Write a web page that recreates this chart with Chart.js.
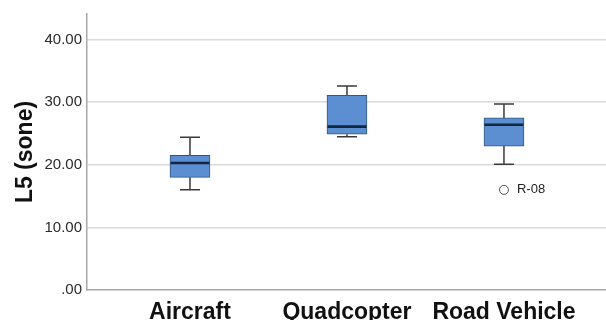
<!DOCTYPE html>
<html>
<head>
<meta charset="utf-8">
<script src="https://cdn.jsdelivr.net/npm/chart.js@4/dist/chart.umd.min.js"></script>
<style>
  html, body { margin: 0; padding: 0; background: #ffffff; }
  #wrap { width: 606px; height: 320px; }
</style>
</head>
<body>
<div id="wrap"><canvas id="c" width="606" height="320"></canvas></div>
<script>
// Groups and their five-number summaries (L5 loudness, sone)
const categories = ['Aircraft', 'Quadcopter', 'Road Vehicle'];
const whiskerLow = [16.0, 24.5, 20.1];
const quartile1 = [18.0, 24.9, 23.0];
const medians = [20.3, 26.1, 26.4];
const quartile3 = [21.5, 31.1, 27.5];
const whiskerHigh = [24.4, 32.6, 29.7];

// Flagged outliers
const outlierGroup = [2];
const outlierValues = [16.0];
const outlierLabels = ['R-08'];

// Value axis ticks
const yTicks = [0, 10, 20, 30, 40];

const FONT = "'Liberation Sans', Arial, Helvetica, sans-serif";

const boxExtras = {
  id: 'boxExtras',
  beforeDatasetsDraw(chart) {
    const { ctx, scales: { x, y } } = chart;
    ctx.save();
    ctx.strokeStyle = '#3a3a3a';
    ctx.lineWidth = 1.5;
    categories.forEach((c, i) => {
      const px = x.getPixelForValue(i);
      const capHalf = 10;
      const yLo = y.getPixelForValue(whiskerLow[i]);
      const yQ1 = y.getPixelForValue(quartile1[i]);
      const yQ3 = y.getPixelForValue(quartile3[i]);
      const yHi = y.getPixelForValue(whiskerHigh[i]);
      ctx.beginPath();
      ctx.moveTo(px, yQ1); ctx.lineTo(px, yLo);
      ctx.moveTo(px - capHalf, yLo); ctx.lineTo(px + capHalf, yLo);
      ctx.moveTo(px, yQ3); ctx.lineTo(px, yHi);
      ctx.moveTo(px - capHalf, yHi); ctx.lineTo(px + capHalf, yHi);
      ctx.stroke();
    });
    ctx.restore();
  },
  afterDatasetsDraw(chart) {
    const { ctx, scales: { x, y } } = chart;
    const bars = chart.getDatasetMeta(0).data;
    ctx.save();
    ctx.strokeStyle = '#13263f';
    ctx.lineWidth = 2.6;
    categories.forEach((c, i) => {
      const bar = bars[i];
      const half = bar.width / 2;
      const px = x.getPixelForValue(i);
      const py = y.getPixelForValue(medians[i]);
      ctx.beginPath();
      ctx.moveTo(px - half + 0.5, py);
      ctx.lineTo(px + half - 0.5, py);
      ctx.stroke();
    });
    ctx.fillStyle = '#222222';
    ctx.font = '13px ' + FONT;
    ctx.textBaseline = 'middle';
    ctx.textAlign = 'left';
    outlierLabels.forEach((t, k) => {
      const px = x.getPixelForValue(outlierGroup[k]);
      const py = y.getPixelForValue(outlierValues[k]);
      ctx.fillText(t, px + 13, py);
    });
    ctx.restore();
  }
};

new Chart(document.getElementById('c'), {
  data: {
    datasets: [
      {
        type: 'bar',
        data: categories.map((c, i) => ({ x: i, y: [quartile1[i], quartile3[i]] })),
        backgroundColor: '#5b8fd1',
        borderColor: '#34557f',
        borderWidth: 1,
        borderSkipped: false,
        barThickness: 40
      },
      {
        type: 'scatter',
        data: outlierValues.map((v, k) => ({ x: outlierGroup[k], y: v })),
        pointStyle: 'circle',
        pointRadius: 4.5,
        pointBackgroundColor: '#ffffff',
        pointBorderColor: '#555555',
        pointBorderWidth: 1
      }
    ]
  },
  plugins: [boxExtras],
  options: {
    responsive: false,
    animation: false,
    events: [],
    layout: { autoPadding: false, padding: { top: 12, right: 0, bottom: 0, left: 0 } },
    plugins: { legend: { display: false }, tooltip: { enabled: false } },
    scales: {
      x: {
        type: 'linear',
        offset: false,
        bounds: 'data',
        min: -0.656,
        max: 2.65,
        afterBuildTicks(scale) { scale.ticks = categories.map((c, i) => ({ value: i })); },
        afterFit(scale) { scale.height = 30; scale.paddingLeft = 0; scale.paddingRight = 0; },
        grid: { display: false, drawTicks: false, offset: false },
        border: { display: true, color: '#a8a8a8', width: 1.5 },
        ticks: {
          autoSkip: false,
          maxRotation: 0,
          padding: 9,
          color: '#111111',
          font: { family: FONT, size: 23, weight: 'bold' },
          callback: (v) => categories[v]
        }
      },
      y: {
        min: 0,
        max: 44.1,
        afterBuildTicks(scale) { scale.ticks = yTicks.map(v => ({ value: v })); },
        afterFit(scale) { scale.width = 87; },
        grid: {
          drawTicks: false,
          color: (ctx) => ctx.tick && ctx.tick.value === 0 ? 'rgba(0,0,0,0)' : '#dadada',
          lineWidth: 1.5
        },
        border: { display: true, color: '#a8a8a8', width: 1.5 },
        title: {
          display: true,
          text: 'L5 (sone)',
          color: '#111111',
          font: { family: FONT, size: 23, weight: 'bold', lineHeight: 1 },
          padding: { top: 14, bottom: 0 }
        },
        ticks: {
          padding: 5,
          color: '#2a2a2a',
          font: { family: FONT, size: 15 },
          callback: (v) => v === 0 ? '.00' : v.toFixed(2)
        }
      }
    }
  }
});
</script>
</body>
</html>
